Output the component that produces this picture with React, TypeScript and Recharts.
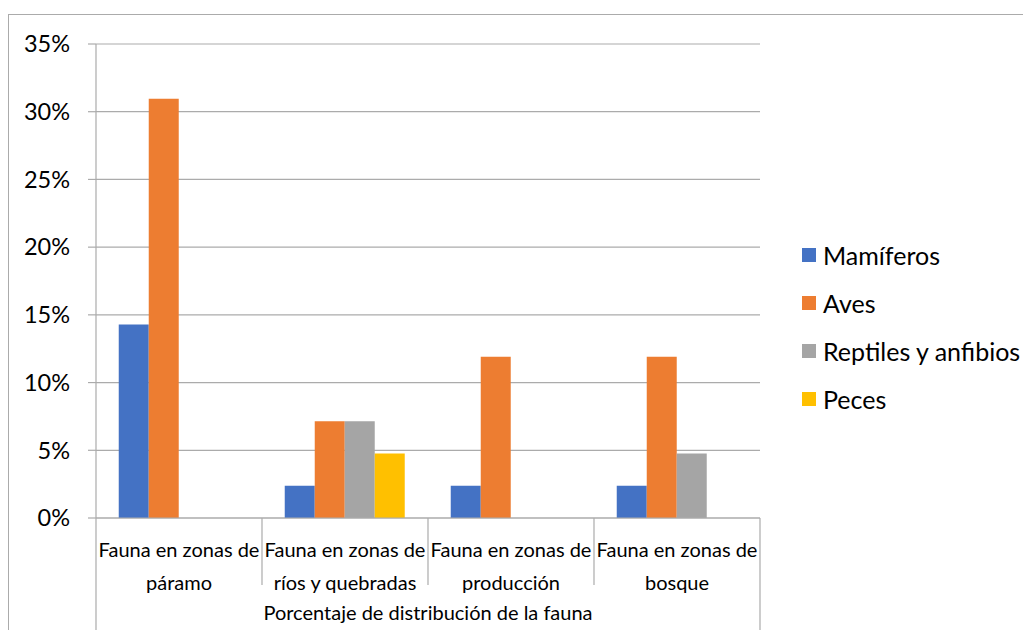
import React from "react";
import { BarChart, Bar, XAxis, YAxis, CartesianGrid } from "recharts";

const categories = [
  ["Fauna en zonas de", "páramo"],
  ["Fauna en zonas de", "ríos y quebradas"],
  ["Fauna en zonas de", "producción"],
  ["Fauna en zonas de", "bosque"],
];
const mamiferos = [14.29, 2.38, 2.38, 2.38];
const aves = [30.95, 7.14, 11.9, 11.9];
const reptiles = [0, 7.14, 0, 4.76];
const peces = [0, 4.76, 0, 0];
const yTicks = [0, 5, 10, 15, 20, 25, 30, 35];
const groupLabel = "Porcentaje de distribución de la fauna";

const series = [
  { key: "mamiferos", name: "Mamíferos", color: "#4472C4" },
  { key: "aves", name: "Aves", color: "#ED7D31" },
  { key: "reptiles", name: "Reptiles y anfibios", color: "#A5A5A5" },
  { key: "peces", name: "Peces", color: "#FFC000" },
];

const data = categories.map((c, i) => ({
  name: c.join(" "),
  lines: c,
  mamiferos: mamiferos[i],
  aves: aves[i],
  reptiles: reptiles[i],
  peces: peces[i],
}));

const W = 1023;
const H = 622;
const PLOT_LEFT = 88;
const PLOT_RIGHT = 752;
const PLOT_TOP = 36;
const PLOT_BOTTOM = 510;
const BAND = (PLOT_RIGHT - PLOT_LEFT) / categories.length;
const GRID = "#ABABAB";
const FONT = "Lato, 'Noto Sans', sans-serif";
const CAT_FS = 20;

const XTick = (props: any) => {
  const { x, index } = props;
  const lines = categories[index] || [];
  const left = x - BAND / 2;
  const right = x + BAND / 2;
  const last = index === categories.length - 1;
  return (
    <g>
      <line x1={left} x2={left} y1={PLOT_BOTTOM} y2={index === 0 ? H : 577} stroke={GRID} strokeWidth={1.2} />
      {last && <line x1={right} x2={right} y1={PLOT_BOTTOM} y2={H} stroke={GRID} strokeWidth={1.2} />}
      <text x={x} y={541} textAnchor="middle" dominantBaseline="central" fontSize={CAT_FS} fontFamily={FONT} fill="#000">
        {lines[0]}
      </text>
      <text x={x} y={574} textAnchor="middle" dominantBaseline="central" fontSize={CAT_FS} fontFamily={FONT} fill="#000">
        {lines[1]}
      </text>
      {index === 0 && (
        <text x={(PLOT_LEFT + PLOT_RIGHT) / 2} y={604} textAnchor="middle" dominantBaseline="central" fontSize={CAT_FS} fontFamily={FONT} fill="#000">
          {groupLabel}
        </text>
      )}
    </g>
  );
};

export default function App() {
  return (
    <div style={{ position: "relative", width: W, height: H }}>
      <style>{`html,body{overflow:hidden}`}</style>
      <div style={{ position: "absolute", left: 0, top: 6, width: W, height: H - 6, borderTop: `1.5px solid ${GRID}`, borderLeft: `1.5px solid ${GRID}`, boxSizing: "border-box" }} />
      <BarChart
        width={W}
        height={H}
        data={data}
        margin={{ top: PLOT_TOP, right: W - PLOT_RIGHT, bottom: 0, left: 0 }}
        barCategoryGap="13.7%"
        barGap={0}
      >
        <CartesianGrid vertical={false} stroke={GRID} strokeWidth={1.2} />
        <YAxis
          domain={[0, 35]}
          ticks={yTicks}
          width={PLOT_LEFT}
          tickSize={8}
          tickMargin={18}
          tickFormatter={(v: number) => `${v}%`}
          axisLine={{ stroke: GRID, strokeWidth: 1.2 }}
          tickLine={{ stroke: GRID, strokeWidth: 1.2 }}
          tick={{ fill: "#000", fontSize: 23.5, fontFamily: FONT }}
          interval={0}
        />
        <XAxis
          dataKey="name"
          height={H - PLOT_BOTTOM}
          axisLine={{ stroke: GRID, strokeWidth: 1.2 }}
          tickLine={false}
          tickSize={0}
          interval={0}
          tick={<XTick />}
        />
        {series.map((s) => (
          <Bar key={s.key} dataKey={s.key} name={s.name} fill={s.color} isAnimationActive={false} />
        ))}
      </BarChart>
      <div style={{ position: "absolute", left: 794, top: 223, fontFamily: FONT, fontSize: 25, color: "#000" }}>
        {series.map((s) => (
          <div key={s.key} style={{ height: 48, display: "flex", alignItems: "center", whiteSpace: "nowrap" }}>
            <span style={{ display: "inline-block", width: 14, height: 14, background: s.color, marginRight: 7 }} />
            <span>{s.name}</span>
          </div>
        ))}
      </div>
    </div>
  );
}
